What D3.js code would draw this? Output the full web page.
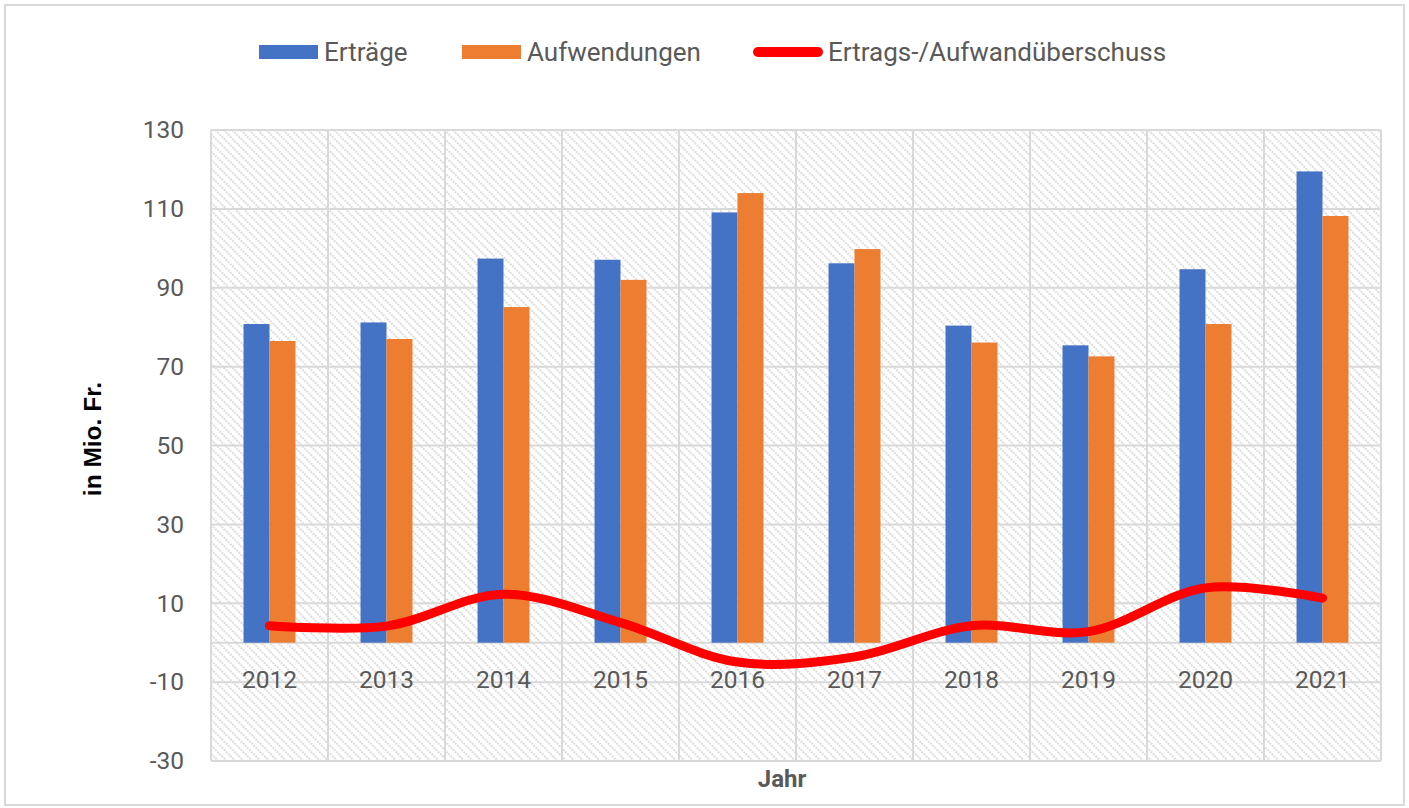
<!DOCTYPE html>
<html>
<head>
<meta charset="utf-8">
<script src="https://cdn.jsdelivr.net/npm/d3@7"></script>
<style>
  body { margin: 0; background: #fff; }
  svg { display: block; font-family: Roboto, "Liberation Sans", sans-serif; }
</style>
</head>
<body>
<script>
// Data
const years = ['2012', '2013', '2014', '2015', '2016', '2017', '2018', '2019', '2020', '2021'];
const ertraege = [80.8, 81.2, 97.4, 97.1, 109.1, 96.2, 80.4, 75.4, 94.7, 119.5];
const aufwendungen = [76.5, 77.0, 85.1, 92.0, 114.0, 99.8, 76.1, 72.6, 80.8, 108.2];
const ueberschuss = [4.3, 4.2, 12.3, 5.1, -4.9, -3.6, 4.3, 2.8, 13.9, 11.3];
const yTicks = [-30, -10, 10, 30, 50, 70, 90, 110, 130];

// SVG setup
const width = 1409;
const height = 808;
const margin = {top: 130, right: 28, bottom: 47, left: 211};

const svg = d3.select('body')
.append('svg')
.attr('width', width)
.attr('height', height);

// hatch pattern for plot area
const defs = svg.append('defs');
const pat = defs.append('pattern')
.attr('id', 'hatch')
.attr('patternUnits', 'userSpaceOnUse')
.attr('width', 6)
.attr('height', 6)
.attr('patternTransform', 'rotate(45)');
pat.append('rect').attr('width', 6).attr('height', 6).attr('fill', '#fff');
pat.append('line')
.attr('x1', 0).attr('y1', 3).attr('x2', 6).attr('y2', 3)
.attr('stroke', '#dcdcdc')
.attr('stroke-width', 2)
.attr('stroke-dasharray', '2 1');

// outer border
svg.append('rect')
.attr('x', 5).attr('y', 5)
.attr('width', width - 10).attr('height', height - 8)
.attr('fill', '#fff')
.attr('stroke', '#d9d9d9')
.attr('stroke-width', 2);

const plotW = width - margin.left - margin.right;
const plotH = height - margin.top - margin.bottom;

const g = svg.append('g').attr('transform', `translate(${margin.left},${margin.top})`);

// Scales
const xScale = d3.scaleBand()
.domain(years)
.range([0, plotW]);

const yScale = d3.scaleLinear()
.domain([-30, 130])
.range([plotH, 0]);

const barW = xScale.bandwidth() * 0.222;

g.append('rect')
.attr('width', plotW)
.attr('height', plotH)
.attr('fill', 'url(#hatch)');

// horizontal gridlines
g.append('g')
.selectAll('line')
.data(yTicks.concat([0]))
.enter()
.append('line')
.attr('x1', 0)
.attr('x2', plotW)
.attr('y1', d => yScale(d))
.attr('y2', d => yScale(d))
.attr('stroke', '#d9d9d9')
.attr('stroke-width', 2);

// vertical gridlines
g.append('g')
.selectAll('line')
.data(d3.range(years.length + 1))
.enter()
.append('line')
.attr('x1', i => i * xScale.step())
.attr('x2', i => i * xScale.step())
.attr('y1', 0)
.attr('y2', plotH)
.attr('stroke', '#d9d9d9')
.attr('stroke-width', 2);

// Bars
const groups = g.append('g')
.selectAll('g')
.data(years)
.enter()
.append('g');

groups.append('rect')
.attr('x', d => xScale(d) + xScale.bandwidth() / 2 - barW)
.attr('y', (d, i) => yScale(ertraege[i]))
.attr('width', barW)
.attr('height', (d, i) => yScale(0) - yScale(ertraege[i]))
.attr('fill', '#4472c4');

groups.append('rect')
.attr('x', d => xScale(d) + xScale.bandwidth() / 2)
.attr('y', (d, i) => yScale(aufwendungen[i]))
.attr('width', barW)
.attr('height', (d, i) => yScale(0) - yScale(aufwendungen[i]))
.attr('fill', '#ed7d31');

// Y axis labels
const yAxis = d3.axisLeft(yScale)
.tickValues(yTicks)
.tickFormat(d => String(d))
.tickSize(0)
.tickPadding(27);
g.append('g')
.call(yAxis)
.call(ax => ax.select('.domain').remove())
.selectAll('text')
.attr('font-size', '24.5px')
.attr('font-family', 'Roboto, sans-serif')
.attr('fill', '#595959');

// X category labels
const xAxis = d3.axisBottom(xScale).tickSize(0).tickPadding(28);
g.append('g')
.attr('transform', `translate(0,${yScale(0)})`)
.call(xAxis)
.call(ax => ax.select('.domain').remove())
.selectAll('text')
.attr('font-size', '24.5px')
.attr('font-family', 'Roboto, sans-serif')
.attr('fill', '#595959');

// Surplus line
const line = d3.line()
.x((d, i) => xScale(years[i]) + xScale.bandwidth() / 2)
.y(d => yScale(d))
.curve(d3.curveCatmullRom.alpha(0.5));

g.append('path')
.datum(ueberschuss)
.attr('d', line)
.attr('fill', 'none')
.attr('stroke', '#ff0000')
.attr('stroke-width', 9)
.attr('stroke-linecap', 'round')
.attr('stroke-linejoin', 'round');

// Axis titles
svg.append('text')
.attr('transform', `translate(101,439) rotate(-90)`)
.attr('text-anchor', 'middle')
.attr('font-size', '24.5px')
.attr('font-family', '"Liberation Sans", Arial, sans-serif')
.attr('font-weight', 'bold')
.attr('fill', '#000')
.text('in Mio. Fr.');

svg.append('text')
.attr('x', margin.left + plotW / 2 - 14)
.attr('y', 787)
.attr('text-anchor', 'middle')
.attr('font-size', '24px')
.attr('font-weight', 'bold')
.attr('fill', '#595959')
.text('Jahr');

// Legend
const legend = svg.append('g');
const legendItems = [
    {label: 'Erträge', x: 259, type: 'rect', color: '#4472c4'},
    {label: 'Aufwendungen', x: 462, type: 'rect', color: '#ed7d31'},
    {label: 'Ertrags-/Aufwandüberschuss', x: 753, type: 'line', color: '#ff0000'}
];

legendItems.forEach(item => {
    if (item.type === 'rect') {
        legend.append('rect')
        .attr('x', item.x).attr('y', 45)
        .attr('width', 59).attr('height', 14)
        .attr('fill', item.color);
    } else {
        legend.append('line')
        .attr('x1', item.x + 5).attr('x2', item.x + 65)
        .attr('y1', 52).attr('y2', 52)
        .attr('stroke', item.color)
        .attr('stroke-width', 10)
        .attr('stroke-linecap', 'round');
    }
    legend.append('text')
    .attr('x', item.x + (item.type === 'rect' ? 65 : 75))
    .attr('y', 61)
    .attr('font-size', '26px')
    .attr('fill', '#595959')
    .text(item.label);
});
</script>
</body>
</html>
